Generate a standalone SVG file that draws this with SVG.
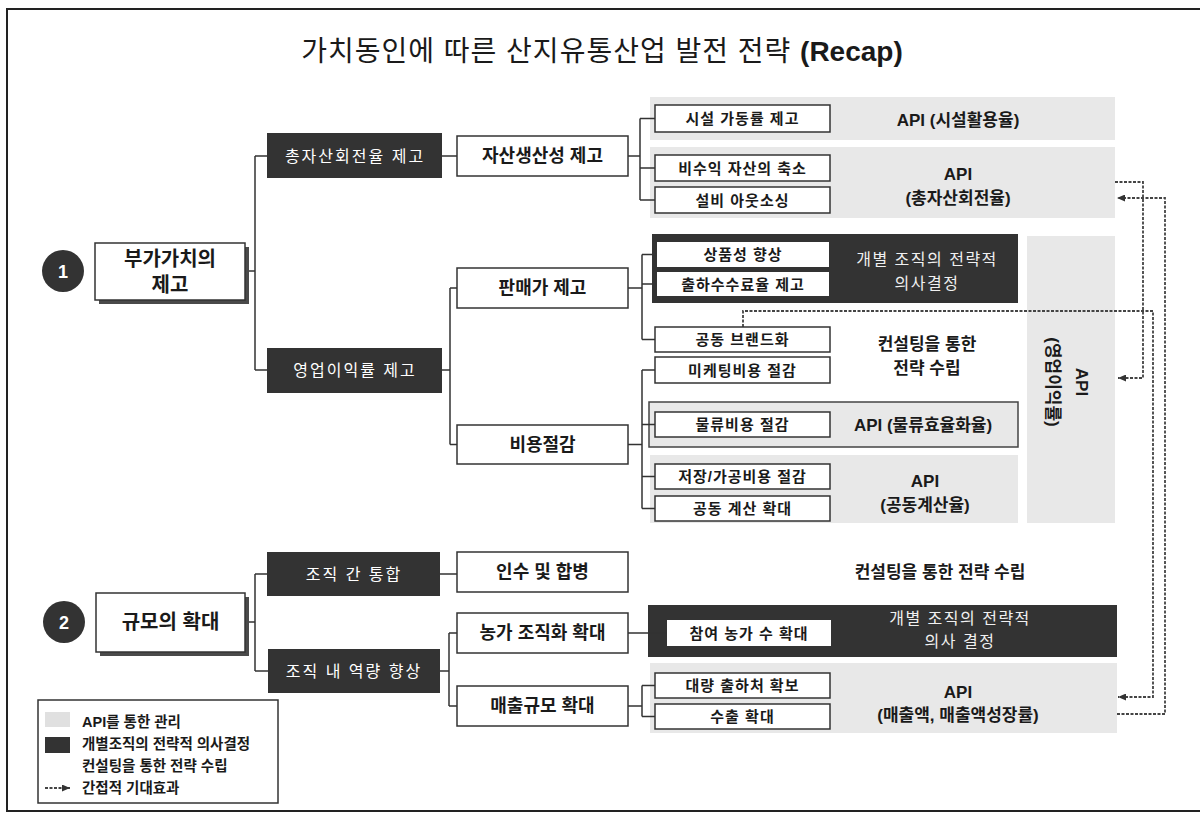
<svg xmlns="http://www.w3.org/2000/svg" width="1200" height="814" viewBox="0 0 1200 814">
<defs>
<marker id="arr" viewBox="0 0 8 7" refX="8" refY="3.5" markerWidth="8" markerHeight="7" markerUnits="userSpaceOnUse" orient="auto">
<path d="M0,0 L8,3.5 L0,7 z" fill="#333"/>
</marker>
</defs>
<style>
text,tspan{font-family:"Liberation Sans","Noto Sans CJK KR",sans-serif;fill:#1a1a1a;text-anchor:middle;dominant-baseline:central}
.band{fill:#e8e8e8}
.dark{fill:#333}
.box{fill:#fff;stroke:#333;stroke-width:1.5}
.wbox{fill:#fff}
.shadow{fill:#4a4a4a}
.leaf{font-size:15px;font-weight:bold;letter-spacing:1px}
.sub{font-size:18px;font-weight:bold}
.main{font-size:20px;font-weight:bold}
.dk{font-size:16px;fill:#fff;letter-spacing:2px}
.dk2{font-size:16px;fill:#f0f0f0;letter-spacing:1.5px}
.api{font-size:17px;font-weight:bold}
.con{font-size:17px;font-weight:bold}
.ln{fill:none;stroke:#333;stroke-width:1.5}
.dash{fill:none;stroke:#444;stroke-width:1.8;stroke-dasharray:3 1.5}
.num{font-size:18px;font-weight:bold;fill:#fff}
.leg{font-size:14.5px;font-weight:bold;text-anchor:start}
</style>
<rect x="0" y="0" width="1200" height="814" fill="#fff"/>
<rect x="7" y="9" width="1200" height="802" fill="none" stroke="#222" stroke-width="2"/>
<text x="602" y="51" font-size="28" letter-spacing="1">가치동인에 따른 산지유통산업 발전 전략 <tspan font-weight="bold" letter-spacing="0">(Recap)</tspan></text>

<!-- background bands -->
<g id="band-facility"><rect class="band" x="650" y="97" width="465" height="43"/><text class="api" x="958" y="120">API (시설활용율)</text></g>
<g id="band-turnover"><rect class="band" x="650" y="147" width="465" height="71"/><text class="api" x="958" y="174">API</text><text class="api" x="958" y="198">(총자산회전율)</text></g>
<g id="band-decision1"><rect class="dark" x="652" y="234" width="366" height="69"/><text class="dk2" x="927" y="259">개별 조직의 전략적</text><text class="dk2" x="927" y="283">의사결정</text></g>
<g id="band-margin"><rect class="band" x="1027" y="236" width="88" height="287"/><text class="api" transform="translate(1068,382) rotate(90)"><tspan x="0" y="-14">API</tspan><tspan x="0" y="15">(영업이익률)</tspan></text></g>
<g id="consult1"><text class="con" x="927" y="344">컨설팅을 통한</text><text class="con" x="927" y="368">전략 수립</text></g>
<g id="band-logistics"><rect class="band" x="649" y="402" width="369" height="45" stroke="#444" stroke-width="1.5"/><text class="api" x="923" y="425">API (물류효율화율)</text></g>
<g id="band-joint"><rect class="band" x="650" y="455" width="368" height="68"/><text class="api" x="925" y="481">API</text><text class="api" x="925" y="505">(공동계산율)</text></g>
<g id="consult2"><text class="con" x="940" y="572">컨설팅을 통한 전략 수립</text></g>
<g id="band-decision2"><rect class="dark" x="648" y="605" width="469" height="52"/><text class="dk2" x="960" y="618">개별 조직의 전략적</text><text class="dk2" x="960" y="641">의사 결정</text></g>
<g id="band-sales"><rect class="band" x="650" y="663" width="467" height="70"/><text class="api" x="958" y="692">API</text><text class="api" x="958" y="715">(매출액, 매출액성장률)</text></g>

<!-- connectors -->
<g id="connectors">
<path class="ln" d="M245,271 H255 M255,156 V370 M255,156 H267 M255,370 H267 M442,156 H457 M442,370 H450 M450,288 V444.5 M450,288 H457 M450,444.5 H457 M628,156 H640 M640,118.5 V200 M640,118.5 H655 M640,168 H655 M640,200 H655 M628,288 H642 M642,254.5 V339.5 M642,254.5 H657 M642,284 H657 M642,339.5 H655 M628,444.5 H642 M642,370 V508.5 M642,370 H655 M642,424.5 H655 M642,476.5 H655 M642,508.5 H655"/>
<path class="ln" d="M245,622 H255 M255,574 V671 M255,574 H267 M255,671 H268 M440,574 H457 M440,671 H449 M449,633 V706 M449,633 H457 M449,706 H457 M628,633 H667 M628,706 H642 M642,685.5 V716.5 M642,685.5 H655 M642,716.5 H655"/>
<path class="dash" d="M1115,182 H1143 V378 H1118" marker-end="url(#arr)"/>
<path class="dash" d="M743,327 V311 H1153 V697 H1118" marker-end="url(#arr)"/>
<path class="dash" d="M1117,714 H1165 V198 H1117" marker-end="url(#arr)"/>
</g>

<!-- section 1 -->
<g id="num1"><circle cx="63" cy="271" r="21" fill="#333"/><text class="num" x="63" y="272">1</text></g>
<g id="value-added"><rect class="shadow" x="99" y="247" width="150" height="57"/><rect class="box" x="95" y="243" width="150" height="57"/><text class="main" x="170" y="259">부가가치의</text><text class="main" x="170" y="285">제고</text></g>
<g id="asset-turnover"><rect class="dark" x="267" y="133" width="175" height="45"/><text class="dk" x="355" y="156">총자산회전율 제고</text></g>
<g id="op-margin"><rect class="dark" x="267" y="348" width="175" height="45"/><text class="dk" x="355" y="370">영업이익률 제고</text></g>
<g id="asset-productivity"><rect class="box" x="457" y="136" width="171" height="40"/><text class="sub" x="542.5" y="156">자산생산성 제고</text></g>
<g id="price"><rect class="box" x="457" y="268" width="171" height="40"/><text class="sub" x="542.5" y="288">판매가 제고</text></g>
<g id="cost"><rect class="box" x="457" y="425" width="171" height="39"/><text class="sub" x="542.5" y="444.5">비용절감</text></g>
<g id="leaf-facility"><rect class="box" x="655" y="105" width="175" height="27"/><text class="leaf" x="742.5" y="118.5">시설 가동률 제고</text></g>
<g id="leaf-nonprofit"><rect class="box" x="655" y="155" width="175" height="26"/><text class="leaf" x="742.5" y="168">비수익 자산의 축소</text></g>
<g id="leaf-outsourcing"><rect class="box" x="655" y="187" width="175" height="26"/><text class="leaf" x="742.5" y="200">설비 아웃소싱</text></g>
<g id="leaf-quality"><rect class="wbox" x="657" y="242" width="172" height="25"/><text class="leaf" x="743" y="254.5">상품성 향상</text></g>
<g id="leaf-fee"><rect class="wbox" x="657" y="272" width="172" height="24"/><text class="leaf" x="743" y="284">출하수수료율 제고</text></g>
<g id="leaf-brand"><rect class="box" x="655" y="327" width="175" height="25"/><text class="leaf" x="742.5" y="339.5">공동 브랜드화</text></g>
<g id="leaf-marketing"><rect class="box" x="655" y="357" width="175" height="26"/><text class="leaf" x="742.5" y="370">미케팅비용 절감</text></g>
<g id="leaf-logistics"><rect class="box" x="655" y="412" width="175" height="25"/><text class="leaf" x="742.5" y="424.5">물류비용 절감</text></g>
<g id="leaf-storage"><rect class="box" x="655" y="464" width="175" height="25"/><text class="leaf" x="742.5" y="476.5">저장/가공비용 절감</text></g>
<g id="leaf-joint"><rect class="box" x="655" y="496" width="175" height="25"/><text class="leaf" x="742.5" y="508.5">공동 계산 확대</text></g>

<!-- section 2 -->
<g id="num2"><circle cx="64" cy="622" r="21" fill="#333"/><text class="num" x="64" y="623">2</text></g>
<g id="scale"><rect class="shadow" x="100" y="597" width="149" height="59"/><rect class="box" x="96" y="593" width="149" height="59"/><text class="main" x="170.5" y="622">규모의 확대</text></g>
<g id="inter-org"><rect class="dark" x="267" y="552" width="173" height="44"/><text class="dk" x="354" y="574">조직 간 통합</text></g>
<g id="intra-org"><rect class="dark" x="268" y="649" width="172" height="44"/><text class="dk" x="354" y="671">조직 내 역량 향상</text></g>
<g id="merger"><rect class="box" x="457" y="552" width="171" height="40"/><text class="sub" x="542.5" y="572">인수 및 합병</text></g>
<g id="farm-org"><rect class="box" x="457" y="613" width="171" height="40"/><text class="sub" x="542.5" y="633">농가 조직화 확대</text></g>
<g id="sales-scale"><rect class="box" x="457" y="686" width="171" height="40"/><text class="sub" x="542.5" y="706">매출규모 확대</text></g>
<g id="leaf-farms"><rect class="wbox" x="667" y="620" width="164" height="26"/><text class="leaf" x="749" y="633">참여 농가 수 확대</text></g>
<g id="leaf-buyers"><rect class="box" x="655" y="673" width="175" height="25"/><text class="leaf" x="742.5" y="685.5">대량 출하처 확보</text></g>
<g id="leaf-export"><rect class="box" x="655" y="704" width="175" height="25"/><text class="leaf" x="742.5" y="716.5">수출 확대</text></g>

<!-- legend -->
<g id="legend">
<rect x="38" y="700" width="240" height="103" fill="#fff" stroke="#333" stroke-width="1.5"/>
<rect x="45" y="712" width="25" height="15" fill="#e0e0e0"/>
<rect x="45" y="737" width="25" height="16" fill="#333"/>
<path class="dash" d="M45,788 H70" marker-end="url(#arr)"/>
<text class="leg" x="82" y="722">API를 통한 관리</text>
<text class="leg" x="82" y="744">개별조직의 전략적 의사결정</text>
<text class="leg" x="82" y="766">컨설팅을 통한 전략 수립</text>
<text class="leg" x="82" y="788">간접적 기대효과</text>
</g>
</svg>
